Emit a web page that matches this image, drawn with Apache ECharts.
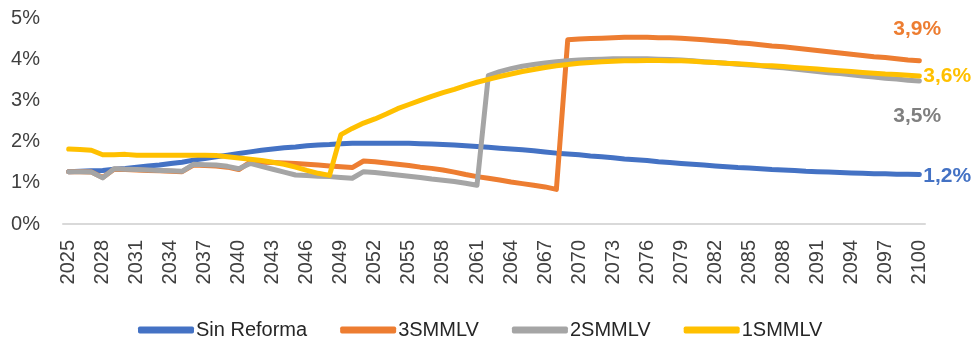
<!DOCTYPE html>
<html>
<head>
<meta charset="utf-8">
<script src="https://cdn.jsdelivr.net/npm/echarts@6/dist/echarts.min.js"></script>
<style>
html,body{margin:0;padding:0;background:#fff;}
#chart{width:971px;height:339px;}
</style>
</head>
<body>
<div id="chart"></div>
<script>
// Years 2025..2100
var years = [];
for (var y = 2025; y <= 2100; y++) years.push(String(y));

var seriesNames = ['Sin Reforma', '3SMMLV', '2SMMLV', '1SMMLV'];
var endLabels = ['1,2%', '3,9%', '3,5%', '3,6%'];
var yTicks = [0, 1, 2, 3, 4, 5];

var sinReforma = [
 1.27,1.28,1.29,1.30,1.33,1.35,1.38,1.41,1.43,1.47,
 1.50,1.55,1.59,1.63,1.67,1.71,1.75,1.79,1.82,1.85,
 1.87,1.90,1.92,1.93,1.95,1.96,1.96,1.96,1.96,1.96,
 1.96,1.95,1.94,1.93,1.92,1.90,1.88,1.86,1.84,1.82,
 1.80,1.78,1.75,1.72,1.70,1.68,1.65,1.63,1.61,1.58,
 1.56,1.54,1.51,1.49,1.47,1.45,1.43,1.41,1.39,1.37,
 1.36,1.34,1.32,1.31,1.30,1.28,1.27,1.26,1.25,1.24,
 1.23,1.22,1.22,1.21,1.21,1.20];

var smmlv3 = [
 1.27,1.27,1.26,1.13,1.33,1.32,1.31,1.30,1.29,1.28,
 1.27,1.43,1.42,1.41,1.38,1.32,1.50,1.50,1.49,1.48,
 1.47,1.45,1.43,1.41,1.39,1.37,1.53,1.51,1.48,1.45,
 1.42,1.38,1.35,1.31,1.26,1.20,1.15,1.11,1.07,1.02,
 0.98,0.94,0.90,0.84,4.47,4.49,4.50,4.51,4.52,4.53,
 4.53,4.53,4.52,4.52,4.51,4.49,4.47,4.45,4.43,4.40,
 4.38,4.35,4.32,4.30,4.27,4.24,4.21,4.18,4.15,4.12,
 4.09,4.06,4.04,4.01,3.98,3.96];

var smmlv2 = [
 1.27,1.27,1.26,1.12,1.34,1.33,1.32,1.31,1.30,1.29,
 1.28,1.45,1.44,1.43,1.40,1.34,1.47,1.40,1.33,1.26,
 1.19,1.18,1.16,1.15,1.13,1.11,1.27,1.25,1.22,1.19,
 1.16,1.13,1.09,1.06,1.03,0.99,0.94,3.60,3.70,3.77,
 3.83,3.87,3.91,3.94,3.96,3.98,3.99,4.00,4.01,4.01,
 4.01,4.01,4.00,3.99,3.98,3.96,3.94,3.92,3.90,3.88,
 3.86,3.84,3.81,3.79,3.76,3.73,3.70,3.67,3.65,3.62,
 3.59,3.57,3.54,3.52,3.49,3.47];

var smmlv1 = [
 1.82,1.81,1.79,1.68,1.68,1.69,1.67,1.67,1.67,1.67,
 1.67,1.67,1.67,1.66,1.63,1.60,1.57,1.54,1.50,1.45,
 1.38,1.30,1.23,1.18,2.17,2.32,2.45,2.55,2.67,2.80,
 2.90,3.00,3.10,3.19,3.27,3.36,3.44,3.51,3.58,3.64,
 3.70,3.75,3.80,3.84,3.87,3.90,3.92,3.94,3.95,3.96,
 3.96,3.97,3.97,3.96,3.96,3.95,3.93,3.92,3.90,3.89,
 3.87,3.85,3.84,3.82,3.80,3.78,3.76,3.74,3.72,3.70,
 3.68,3.66,3.64,3.63,3.61,3.59];

var colors = ['#4472C4', '#ED7D31', '#A5A5A5', '#FFC000'];
var labelColors = ['#4472C4', '#ED7D31', '#7F7F7F', '#FFC000'];
var labelOffsets = [[-1, 1.5], [-31, -32], [-31, 35], [-1, 0]];
var dataSets = [sinReforma, smmlv3, smmlv2, smmlv1];

var FONT = '"Liberation Sans", Arial, sans-serif';

var series = dataSets.map(function (d, i) {
  return {
    name: seriesNames[i],
    type: 'line',
    data: d,
    symbol: 'none',
    smooth: false,
    lineStyle: { width: 5, color: colors[i], cap: 'round', join: 'round' },
    itemStyle: { color: colors[i] },
    endLabel: {
      show: true,
      formatter: function () { return endLabels[i]; },
      color: labelColors[i],
      fontFamily: FONT,
      fontWeight: 'bold',
      fontSize: 21,
      offset: labelOffsets[i],
      distance: 5
    },
    emphasis: { disabled: true }
  };
});

var chart = echarts.init(document.getElementById('chart'), null, { renderer: 'canvas' });
chart.setOption({
  animation: false,
  backgroundColor: '#ffffff',
  color: colors,
  grid: { left: 63, right: 46, top: 18, bottom: 115 },
  legend: {
    data: seriesNames,
    left: 133,
    top: 315,
    itemWidth: 56,
    itemHeight: 7,
    itemGap: 33,
    icon: 'roundRect',
    textStyle: { fontFamily: FONT, fontSize: 20, color: '#262626', padding: [0, 0, 0, -3] }
  },
  xAxis: {
    type: 'category',
    data: years,
    boundaryGap: true,
    axisTick: { show: false },
    axisLine: { lineStyle: { color: '#D9D9D9', width: 2 } },
    axisLabel: {
      interval: 2,
      rotate: 90,
      margin: 16,
      fontFamily: FONT,
      fontSize: 20,
      color: '#404040'
    },
    splitLine: { show: false }
  },
  yAxis: {
    type: 'value',
    min: yTicks[0],
    max: yTicks[yTicks.length - 1],
    interval: 1,
    axisLine: { show: false },
    axisTick: { show: false },
    splitLine: { show: false },
    axisLabel: {
      formatter: '{value}%',
      margin: 23,
      fontFamily: FONT,
      fontSize: 20,
      color: '#404040'
    }
  },
  series: series
});
</script>
</body>
</html>
